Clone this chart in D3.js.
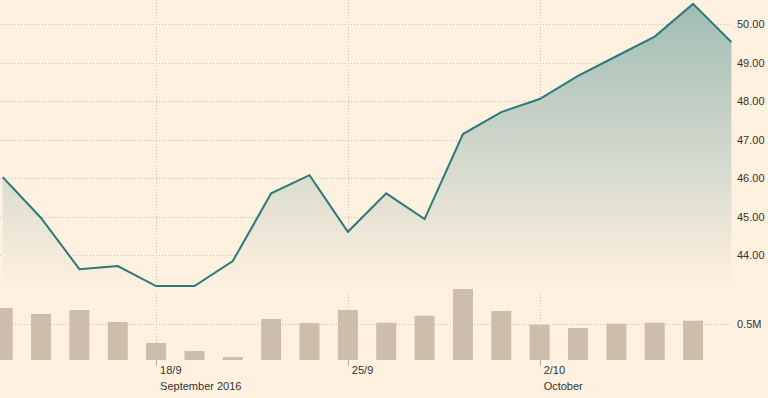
<!DOCTYPE html>
<html>
<head>
<meta charset="utf-8">
<script src="https://cdn.jsdelivr.net/npm/d3@7"></script>
<style>
  body { margin: 0; background: #fff1e0; }
  svg { display: block; font-family: Arial, "Liberation Sans", sans-serif; }
</style>
</head>
<body>
<div id="chart"></div>
<script>
// trading days shown (index 0..19)
const days = ["12/9","13/9","14/9","15/9","16/9","19/9","20/9","21/9","22/9","23/9",
              "26/9","27/9","28/9","29/9","30/9","3/10","4/10","5/10","6/10","7/10"];
const prices = [46.03, 44.97, 43.64, 43.72, 43.20, 43.20, 43.85, 45.61, 46.08, 44.61,
                45.61, 44.94, 47.15, 47.72, 48.06, 48.66, 49.17, 49.68, 50.53, 49.54];
// volume in millions (no bar for last day)
const volumes = [0.722, 0.639, 0.694, 0.528, 0.236, 0.125, 0.042, 0.569, 0.514, 0.694,
                 0.518, 0.615, 0.986, 0.681, 0.490, 0.444, 0.504, 0.518, 0.546];
const priceTicks = [44, 45, 46, 47, 48, 49, 50];
const volumeTicks = [0.5];
const dateTicks = [{i: 4, label: "18/9", sub: "September 2016"},
                   {i: 9, label: "25/9", sub: ""},
                   {i: 14, label: "2/10", sub: "October"}];

const W = 768, H = 398;
const plotRight = 732;

const svg = d3.select("#chart").append("svg")
  .attr("width", W).attr("height", H)
  .style("background-color", "#fff1e0");

const x = d3.scaleLinear().domain([0, days.length - 1]).range([2.7, 731.4]);
const y = d3.scaleLinear().domain([44, 50]).range([255.3, 24.3]);
const yv = d3.scaleLinear().domain([0, 0.5]).range([360, 324]);

const defs = svg.append("defs");
defs.append("clipPath").attr("id", "plotclip")
  .append("rect").attr("x", 0).attr("y", 0).attr("width", plotRight).attr("height", H);
const grad = defs.append("linearGradient").attr("id", "areagrad")
  .attr("gradientUnits", "userSpaceOnUse")
  .attr("x1", 0).attr("y1", 0).attr("x2", 0).attr("y2", 290);
grad.append("stop").attr("offset", "0%").attr("stop-color", "#9fbcb3");
grad.append("stop").attr("offset", "50%").attr("stop-color", "#cfd6cb");
grad.append("stop").attr("offset", "100%").attr("stop-color", "#fff1e0");

const gridColor = "#cbbfb0";

// horizontal gridlines - price
svg.append("g").selectAll("line").data(priceTicks).join("line")
  .attr("x1", 0).attr("x2", plotRight)
  .attr("y1", d => Math.round(y(d)) + 0.5).attr("y2", d => Math.round(y(d)) + 0.5)
  .attr("stroke", gridColor).attr("stroke-dasharray", "1,2");

// volume gridline
svg.append("g").selectAll("line").data(volumeTicks).join("line")
  .attr("x1", 0).attr("x2", plotRight)
  .attr("y1", d => Math.round(yv(d)) + 0.5).attr("y2", d => Math.round(yv(d)) + 0.5)
  .attr("stroke", gridColor).attr("stroke-dasharray", "1,2");

// vertical gridlines
svg.append("g").selectAll("line").data(dateTicks).join("line")
  .attr("x1", d => Math.round(x(d.i)) + 0.5).attr("x2", d => Math.round(x(d.i)) + 0.5)
  .attr("y1", 0).attr("y2", 360)
  .attr("stroke", gridColor).attr("stroke-dasharray", "1,2");

const plot = svg.append("g").attr("clip-path", "url(#plotclip)");

// area
const area = d3.area()
  .x((d, i) => x(i))
  .y0(292)
  .y1(d => y(d));
plot.append("path").datum(prices)
  .attr("fill", "url(#areagrad)")
  .attr("d", area);

// volume bars
plot.selectAll(".bar").data(volumes).join("rect")
  .attr("class", "bar")
  .attr("x", (d, i) => x(i) - 10)
  .attr("width", 20)
  .attr("y", d => yv(d))
  .attr("height", d => yv(0) - yv(d))
  .attr("fill", "#cdbdab");

// price line
const line = d3.line().x((d, i) => x(i)).y(d => y(d));
plot.append("path").datum(prices)
  .attr("fill", "none")
  .attr("stroke", "#2b7a7a")
  .attr("stroke-width", 2)
  .attr("stroke-linejoin", "miter")
  .attr("d", line);

// tick marks below bars
svg.append("g").selectAll("line").data(dateTicks).join("line")
  .attr("x1", d => Math.round(x(d.i)) + 0.5).attr("x2", d => Math.round(x(d.i)) + 0.5)
  .attr("y1", 360).attr("y2", 366)
  .attr("stroke", "#b5aba0");

// date labels
const dl = svg.append("g").attr("font-size", "11px").attr("fill", "#333");
dl.selectAll(".d1").data(dateTicks).join("text")
  .attr("class", "d1")
  .attr("x", d => x(d.i) + 4).attr("y", 374)
  .text(d => d.label);
dl.selectAll(".d2").data(dateTicks).join("text")
  .attr("class", "d2")
  .attr("x", d => x(d.i) + 4).attr("y", 390)
  .text(d => d.sub);

// right axis labels
const rl = svg.append("g").attr("font-size", "11px").attr("fill", "#333");
rl.selectAll(".p").data(priceTicks).join("text")
  .attr("class", "p")
  .attr("x", 737).attr("y", d => y(d)).attr("dy", "0.35em")
  .text(d => d3.format(".2f")(d));
rl.selectAll(".v").data(volumeTicks).join("text")
  .attr("class", "v")
  .attr("x", 737).attr("y", d => yv(d)).attr("dy", "0.35em")
  .text(d => d + "M");
</script>
</body>
</html>
